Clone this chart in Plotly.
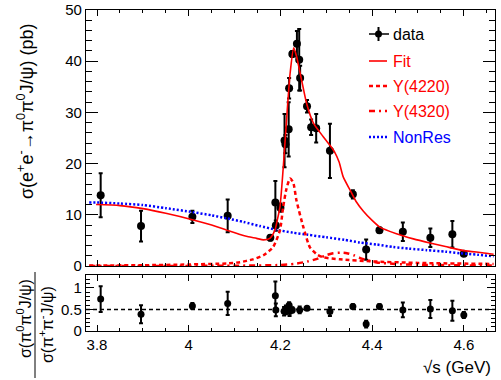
import plotly.graph_objects as go

# ---------------- data ----------------
# top panel: cross section of e+e- -> pi0 pi0 J/psi (pb)
E_DATA = [3.808, 3.896, 4.008, 4.085, 4.178, 4.189, 4.190, 4.200, 4.209, 4.211,
          4.218, 4.219, 4.226, 4.236, 4.241, 4.243, 4.258, 4.267, 4.278, 4.308,
          4.358, 4.387, 4.416, 4.467, 4.527, 4.575, 4.600]
XS_DATA = [13.8, 7.8, 9.6, 9.8, 5.5, 12.4, 7.9, 11.4, 24.5, 23.8,
           26.7, 34.7, 41.4, 43.4, 40.3, 36.7, 31.2, 27.1, 26.9, 22.5,
           14.0, 3.2, 7.0, 6.7, 5.5, 6.2, 2.4]
XS_ERR = [4.3, 3.0, 1.2, 3.2, 0.5, 4.2, 1.0, 0.8, 5.2, 1.8,
          5.3, 2.0, 0.6, 2.5, 6.0, 2.4, 1.2, 1.5, 2.8, 5.3,
          0.8, 2.0, 0.5, 1.8, 1.8, 2.6, 0.3]

# fit curves
FIT_E = [3.798, 3.85, 3.90, 3.95, 4.01, 4.05, 4.083, 4.11, 4.13, 4.148, 4.163,
         4.177, 4.188, 4.193, 4.199, 4.206, 4.213, 4.221, 4.229, 4.235, 4.246,
         4.257, 4.272, 4.293, 4.308, 4.318, 4.328, 4.337, 4.352, 4.365, 4.381,
         4.40, 4.417, 4.453, 4.49, 4.526, 4.56, 4.60, 4.64, 4.665]
FIT_V = [12.0, 11.8, 11.2, 10.3, 9.0, 8.0, 7.0, 6.2, 5.7, 5.4, 5.1,
         5.4, 7.0, 8.9, 11.5, 19.0, 28.0, 37.5, 42.6, 41.0, 36.4,
         31.8, 27.9, 25.3, 23.6, 22.3, 20.3, 17.4, 14.8, 12.6, 10.7,
         8.9, 7.6, 6.3, 5.3, 4.5, 3.8, 3.0, 2.6, 2.3]

Y4220_E = [3.783, 3.90, 4.00, 4.083, 4.112, 4.140, 4.163, 4.184, 4.199, 4.206,
           4.213, 4.221, 4.228, 4.235, 4.250, 4.264, 4.279, 4.293, 4.330, 4.40,
           4.50, 4.665]
Y4220_V = [0.1, 0.15, 0.3, 0.5, 0.75, 1.3, 2.1, 3.7, 7.0, 11.5,
           15.0, 17.1, 16.3, 12.8, 7.6, 3.7, 2.3, 1.7, 1.3, 0.9,
           0.6, 0.4]

Y4320_E = [3.783, 4.10, 4.20, 4.23, 4.26, 4.28, 4.30, 4.315, 4.33, 4.345,
           4.36, 4.373, 4.39, 4.41, 4.45, 4.50, 4.60, 4.665]
Y4320_V = [0.0, 0.05, 0.2, 0.4, 0.9, 1.4, 2.1, 2.5, 2.6, 2.5,
           2.1, 1.6, 1.1, 0.7, 0.4, 0.25, 0.12, 0.1]

NONRES_E = [3.783, 3.80, 3.85, 3.90, 3.95, 4.01, 4.05, 4.083, 4.12, 4.155,
            4.19, 4.228, 4.26, 4.30, 4.34, 4.373, 4.41, 4.446, 4.48, 4.519,
            4.56, 4.591, 4.63, 4.665]
NONRES_V = [12.4, 12.4, 12.2, 11.9, 11.3, 10.5, 9.9, 9.3, 8.6, 7.8,
            7.1, 6.5, 6.1, 5.6, 5.1, 4.6, 4.2, 3.7, 3.4, 3.1,
            2.8, 2.5, 2.2, 1.9]

# bottom panel: ratio sigma(pi0pi0 J/psi)/sigma(pi+pi- J/psi)
E_RATIO = [3.808, 3.896, 4.008, 4.085, 4.189, 4.190, 4.208, 4.212, 4.219, 4.220,
           4.226, 4.242, 4.258, 4.308, 4.358, 4.387, 4.416, 4.467, 4.527, 4.575,
           4.600]
RATIO = [0.74, 0.39, 0.58, 0.64, 0.82, 0.49, 0.46, 0.49, 0.60, 0.45,
         0.49, 0.49, 0.53, 0.45, 0.57, 0.16, 0.57, 0.49, 0.51, 0.47,
         0.37]
RATIO_ERR = [0.30, 0.21, 0.07, 0.27, 0.33, 0.15, 0.10, 0.10, 0.07, 0.10,
             0.06, 0.08, 0.03, 0.10, 0.05, 0.08, 0.05, 0.17, 0.21, 0.23,
             0.07]
REF_RATIO = 0.5

X_TICKS = [3.8, 4.0, 4.2, 4.4, 4.6]
X_TICK_TEXT = ["3.8", "4", "4.2", "4.4", "4.6"]

# ---------------- layout geometry ----------------
W, H = 501, 380
L, R, T, B = 86, 6, 10, 49
PW, PH = W - L - R, H - T - B


def px(x):
    return (x - L) / PW


def py(y):
    return (H - B - y) / PH


FONT = "Liberation Sans, Arial, Helvetica, sans-serif"
XRANGE = [3.776, 4.668]

fig = go.Figure()

# data (top)
fig.add_trace(go.Scatter(
    x=E_DATA, y=XS_DATA, mode="markers", xaxis="x", yaxis="y",
    marker=dict(color="black", size=8),
    error_y=dict(type="data", array=XS_ERR, color="black", thickness=2, width=2),
    showlegend=False))

# curves
fig.add_trace(go.Scatter(x=NONRES_E, y=NONRES_V, mode="lines", xaxis="x", yaxis="y",
                         line=dict(color="#0000ff", width=2.5, dash="2px,2px", shape="spline", smoothing=0.6),
                         showlegend=False))
fig.add_trace(go.Scatter(x=Y4220_E, y=Y4220_V, mode="lines", xaxis="x", yaxis="y",
                         line=dict(color="#ff0000", width=2.5, dash="4px,3px", shape="spline", smoothing=0.6),
                         showlegend=False))
fig.add_trace(go.Scatter(x=Y4320_E, y=Y4320_V, mode="lines", xaxis="x", yaxis="y",
                         line=dict(color="#ff0000", width=2.5, dash="6px,4px,2px,4px", shape="spline", smoothing=0.6),
                         showlegend=False))
fig.add_trace(go.Scatter(x=FIT_E, y=FIT_V, mode="lines", xaxis="x", yaxis="y",
                         line=dict(color="#ff0000", width=1.6, shape="spline", smoothing=0.6),
                         showlegend=False))

# ratio (bottom)
fig.add_trace(go.Scatter(
    x=XRANGE, y=[REF_RATIO, REF_RATIO], mode="lines", xaxis="x2", yaxis="y2",
    line=dict(color="black", width=1.5, dash="4px,3px"), showlegend=False))
fig.add_trace(go.Scatter(
    x=E_RATIO, y=RATIO, mode="markers", xaxis="x2", yaxis="y2",
    marker=dict(color="black", size=7),
    error_y=dict(type="data", array=RATIO_ERR, color="black", thickness=2, width=2),
    showlegend=False))

axis_common = dict(showline=True, linecolor="black", linewidth=1.2, mirror="allticks",
                   ticks="inside", tickcolor="black", tickwidth=1, showgrid=False,
                   zeroline=False, automargin=False,
                   tickfont=dict(family=FONT, size=15, color="black"))

top_bottom = py(266)
fig.update_layout(
    width=W, height=H,
    margin=dict(l=L, r=R, t=T, b=B, autoexpand=False),
    paper_bgcolor="white", plot_bgcolor="white",
    showlegend=False,
    xaxis=dict(axis_common, domain=[0, 1], range=XRANGE, anchor="y",
               tickvals=X_TICKS, ticklen=6, showticklabels=False,
               minor=dict(ticks="inside", ticklen=3, dtick=0.05, tick0=3.8,
                          tickcolor="black", showgrid=False)),
    yaxis=dict(axis_common, domain=[top_bottom, 1], range=[0, 50], anchor="x",
               dtick=10, tick0=0, ticklen=12,
               minor=dict(ticks="inside", ticklen=6, dtick=2, tick0=0,
                          tickcolor="black", showgrid=False)),
    xaxis2=dict(axis_common, domain=[0, 1], range=XRANGE, anchor="y2",
                tickvals=X_TICKS, ticktext=X_TICK_TEXT, ticklen=6,
                minor=dict(ticks="inside", ticklen=3, dtick=0.05, tick0=3.8,
                           tickcolor="black", showgrid=False)),
    yaxis2=dict(axis_common, domain=[0, py(275)], range=[0, 1.3], anchor="x2",
                tickvals=[0, 0.5, 1], ticktext=["0", "0.5", "1"], ticklen=8,
                minor=dict(ticks="inside", ticklen=4, dtick=0.1, tick0=0,
                           tickcolor="black", showgrid=False)),
)

annotations = []
shapes = []

# axis titles
annotations.append(dict(
    text="σ(e<sup>+</sup>e<sup>-</sup>→π<sup>0</sup>π<sup>0</sup>J/ψ) (pb)",
    xref="paper", yref="paper", x=px(25), y=py(112), xanchor="center", yanchor="middle",
    textangle=-90, showarrow=False, font=dict(family=FONT, size=18, color="black")))
annotations.append(dict(
    text="σ(π<sup>0</sup>π<sup>0</sup>J/ψ)",
    xref="paper", yref="paper", x=px(24), y=py(319), xanchor="center", yanchor="middle",
    textangle=-90, showarrow=False, font=dict(family=FONT, size=16, color="black")))
annotations.append(dict(
    text="σ(π<sup>+</sup>π<sup>-</sup>J/ψ)",
    xref="paper", yref="paper", x=px(46), y=py(325), xanchor="center", yanchor="middle",
    textangle=-90, showarrow=False, font=dict(family=FONT, size=16, color="black")))
shapes.append(dict(type="line", xref="paper", yref="paper",
                   x0=px(35), x1=px(35), y0=py(272), y1=py(378),
                   line=dict(color="black", width=1)))
annotations.append(dict(
    text="√s (GeV)", xref="paper", yref="paper", x=px(493), y=py(367),
    xanchor="right", yanchor="middle", showarrow=False,
    font=dict(family=FONT, size=17, color="black")))

# legend (manual, ROOT style)
leg = [
    ("data", "black", None, 34),
    ("Fit", "#ff0000", "solid", 61),
    ("Y(4220)", "#ff0000", "4px,3px", 86),
    ("Y(4320)", "#ff0000", "6px,4px,2px,4px", 111),
    ("NonRes", "#0000ff", "2px,2px", 137),
]
for label, col, dash, yy in leg:
    if dash is None:
        shapes.append(dict(type="line", xref="paper", yref="paper",
                           x0=px(369), x1=px(389), y0=py(yy), y1=py(yy),
                           line=dict(color="black", width=1.5)))
        shapes.append(dict(type="line", xref="paper", yref="paper",
                           x0=px(378.5), x1=px(378.5), y0=py(yy - 7), y1=py(yy + 7),
                           line=dict(color="black", width=2)))
        shapes.append(dict(type="circle", xref="paper", yref="paper",
                           x0=px(375), x1=px(382), y0=py(yy - 3.5), y1=py(yy + 3.5),
                           fillcolor="black", line=dict(color="black", width=0)))
    else:
        shapes.append(dict(type="line", xref="paper", yref="paper",
                           x0=px(369), x1=px(387), y0=py(yy), y1=py(yy),
                           line=dict(color=col, width=1.6 if dash == "solid" else 2.5, dash=dash)))
    annotations.append(dict(text=label, xref="paper", yref="paper", x=px(391), y=py(yy),
                            xanchor="left", yanchor="middle", showarrow=False,
                            font=dict(family=FONT, size=16, color=col)))

fig.update_layout(annotations=annotations, shapes=shapes)

fig.write_html("out.html", config={"displayModeBar": False},
               post_script="document.body.style.margin='0';")
